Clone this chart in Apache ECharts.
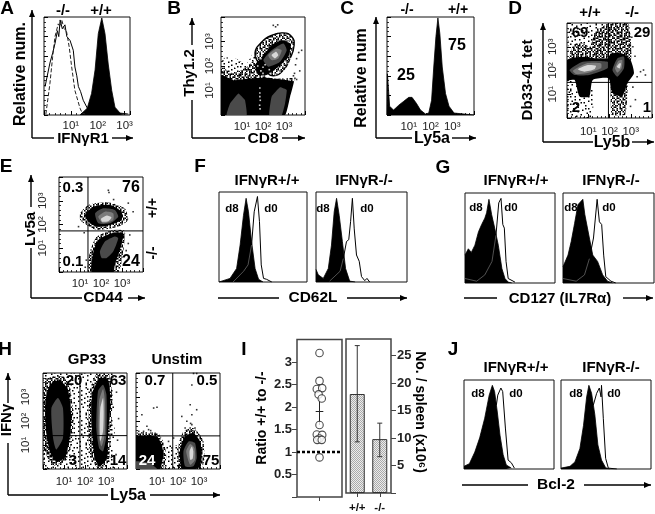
<!DOCTYPE html>
<html><head><meta charset="utf-8">
<style>html,body{margin:0;padding:0;background:#fff}#c{width:655px;height:514px;filter:blur(.3px)}</style>
<script src="https://cdn.jsdelivr.net/npm/echarts@6/dist/echarts.min.js"></script>
</head><body><div id="c"></div>
<script>
// ---------- tick labels ----------
const decadeLabels = {1:'10¹',2:'10²',3:'10³'};
const ratioTicks = ['0.5','1','1.5','2','2.5','3'];
const spleenTicks = [5,10,15,20,25];
const spleenCats = ['+/+','-/-'];

// ---------- panel A: histograms (x = log decades, y = % of max) ----------
const aSolid  = [[.04,29],[.22,53],[.33,64],[.41,73],[.5,86],[.55,80],[.6,97],[.68,88],[.78,92],[.85,80],[.97,76],[1.09,66],[1.15,49],[1.22,40],[1.28,29],[1.36,24],[1.46,15],[1.65,5],[1.84,1]];
const aDashed = [[.07,1],[.22,32],[.32,59],[.41,80],[.53,93],[.6,90],[.66,97],[.75,88],[.84,85],[.94,69],[1.03,49],[1.15,25],[1.34,7],[1.42,2],[1.53,1]];
const aFill   = [[1.34,0],[1.61,7],[1.77,22],[1.9,46],[2.02,83],[2.15,99],[2.27,83],[2.39,52],[2.52,25],[2.64,8],[2.83,2],[3.14,1]];
// ---------- panel C ----------
const cFill = [[.0,0],[.02,42],[.12,9],[.3,5],[.54,10],[.77,14],[1,18],[1.15,18],[1.35,12],[1.54,5],[1.77,1],[1.92,2],[2.05,15],[2.15,49],[2.25,80],[2.34,99],[2.43,83],[2.54,49],[2.69,22],[2.85,9],[3.08,2],[3.54,1],[4,0]];
// ---------- panels F, G, J: x = % of box, y = % of max ----------
const f1Fill = [[0,0],[12.5,4],[20,15],[24,41],[27.8,74],[30.8,93],[33.5,78],[37,45],[41,15],[45,3],[50,0]];
const f1Line = [[16,0],[28,12],[33,19],[37,41],[40,78],[43.7,95],[46,67],[48,19],[50.6,4],[54,3],[60,0]];
const f2Fill = [[0,14],[2.5,8],[8,4],[13.5,15],[17,41],[20,78],[22.6,93],[25.5,74],[29,45],[32.5,15],[37,1],[43,0]];
const f2Line = [[15,1],[26.5,12],[30,26],[33.5,45],[36,47],[38,67],[40,93],[42,59],[44.5,30],[47.5,23],[50,6],[53.6,1.5],[56,4],[59,0]];
const g1Fill = [[0,31],[3.7,38],[7,34],[11,42],[15,57],[18.5,65],[22,72],[24,78],[26.6,93],[29.6,76],[33,61],[37,42],[41,16],[44.4,5],[48,1],[52,0]];
const g1Line = [[0,5],[13,2],[22,9],[30,24],[34.4,53],[37.5,89],[40,94],[42,65],[43.7,61],[45.6,24],[48,5],[55.5,1]];
const g2Fill = [[0,18],[5.5,31],[9,46],[12.7,66],[16.4,87],[21.8,93],[24,76],[29,50],[32.7,31],[38,24],[43.6,9],[49,2],[54.5,0]];
const g2Line = [[0,5],[14.5,2],[23.6,9],[29,27],[33.5,50],[37.5,93],[40,68],[42.5,65],[44.7,31],[47,7],[52.7,2],[58,0]];
const j1Fill = [[0,3],[6,6],[12,19],[17.4,35],[23,57],[28,83],[31.5,94],[34,87],[37,64],[40,38],[43.5,16],[47,4.5],[52.6,1]];
const j1Line = [[36,72],[37.5,83],[41,91],[43,87],[46,46],[49,10],[52.6,7],[56,1]];
const j2Fill = [[0,1],[10,3],[15.5,8],[21,23],[25,49],[28.5,81],[31,94],[34,85],[37.6,61],[41,27],[45,10],[49.6,1.5],[54,0]];
const j2Line = [[36,72],[39.6,85],[42.6,91],[44.5,81],[45,94],[47,57],[49.6,12],[52.6,1],[62,0]];

// ---------- panel B: populations, log decades ----------
const bSparse = [[0,1.6],[.1,2.3],[.6,2.35],[1.2,2.1],[1.6,2.6],[1.9,1.5],[.6,1.4]];
const bDense  = [[0,1.5],[0,1.95],[.6,1.7],[1.2,1.95],[1.6,2.2],[2.2,1.5],[3.5,1.5],[3.3,1.2],[0,1.2]];
const bBlack  = [[0,0],[0,1.63],[.59,1.42],[1.38,1.49],[2.17,1.53],[3.13,1.42],[3.47,1.36],[3.29,.75],[3.05,0]];
const bGrey1  = [[.27,0],[.43,.47],[.83,.88],[1.14,.61],[1.22,0]];
const bGrey2  = [[2.3,0],[2.41,.75],[2.81,1.13],[3.13,1.02],[3.05,.47],[2.89,0]];
const bPop    = [[1.62,2.03],[2.02,2.44],[2.41,2.85],[2.89,3.05],[3.29,2.92],[3.21,2.37],[2.73,1.97],[2.17,1.63],[1.78,1.63]];
const bDark   = [[2.02,2.24],[2.41,2.64],[2.97,2.92],[3.13,2.64],[2.81,2.17],[2.25,1.97]];
const bMid    = [[2.25,2.44],[2.65,2.71],[2.89,2.64],[2.73,2.31],[2.41,2.24]];
const bLight  = [[2.41,2.44],[2.62,2.58],[2.73,2.44],[2.57,2.31]];
const bGate   = [[1.62,2.54],[1.94,2.98],[2.41,3.25],[2.97,3.35],[3.37,3.2],[3.48,2.85],[3.29,2.31],[2.97,1.83],[2.49,1.6],[2.1,1.8],[1.78,2.13]];
const bDots   = [[2.49,3.66],[2.6,3.6],[2.7,3.68],[3.84,2.64],[3.7,2.55],[3.6,2.3],[3.55,2.05],[3.75,1.8],[3.5,1.7],[3.45,1.6],[3.52,1.5],[3.6,1.45]];
const bWhite  = [[1.75,2],[1.9,1.8],[2,1.7],[2.2,1.55],[2.35,1.7],[2.6,1.65],[2.8,1.75],[3,1.8],[3.2,2.1],[3.3,2.3],[3.35,2.6],[3.4,2.8],[3.2,3],[1.7,2.4],[1.85,2.6],[2,1.95],[1.6,1.7],[1.5,1.55],[2.5,1.5],[1.85,.9],[1.85,.75],[1.87,.6],[1.84,.4],[1.86,.25],[1.85,1.1],[3.1,1.9],[2.95,2],[3.05,2.2],[2.1,2.05],[2.3,1.85],[1.9,2.3],[.7,1.95],[.9,2.05],[1.1,1.75],[1.3,1.65]];

// ---------- panel D ----------
const dTop    = [[.12,3.97],[1.98,3.97],[2.91,3.97],[2.99,2.44],[1.98,2.51],[.12,2.44]];
const dCols   = [[.12,2.5],[.3,3.1],[.7,3.15],[1.1,3],[1.3,3.6],[1.9,3.97],[2.9,3.97],[3,2.44]];
const dLeft   = [[0,1.6],[0,0],[1.21,0],[1.3,1.6]];
const dLow    = [[2.06,1.6],[2.1,.14],[2.75,.14],[2.84,1.46]];
const dBlack  = [[0,2.44],[.74,2.58],[1.36,2.51],[1.91,2.51],[2.06,2.72],[2.6,2.72],[2.99,2.44],[3.15,1.88],[2.84,1.46],[2.6,.91],[2.14,1.05],[1.95,1.67],[1.21,1.6],[1.05,.91],[.59,.91],[.36,1.6],[0,1.6]];
const dDarkL  = [[.12,2.02],[.74,2.37],[1.91,2.37],[1.91,2.09],[1.05,1.81],[.36,1.81]];
const dMidL   = [[.28,1.99],[.9,2.3],[1.6,2.3],[1.6,2.09],[.9,1.88],[.43,1.85]];
const dLightL = [[.51,2.05],[.98,2.23],[1.36,2.2],[1.29,2.05],[.82,1.95]];
const dDarkR  = [[2.14,2.02],[2.37,2.51],[2.68,2.58],[2.68,2.09],[2.37,1.74]];
const dMidR   = [[2.26,2.09],[2.42,2.41],[2.6,2.44],[2.57,2.09],[2.37,1.91]];
const dLightR = [[2.34,2.16],[2.45,2.3],[2.54,2.3],[2.48,2.09]];
const dDots   = [[3.46,1.95],[3.6,2.02],[3.3,1.74],[3.69,1.81],[2.76,.63],[2.99,.49],[3.22,.77],[3.1,1.3],[3.2,2.6],[3.1,3],[3.05,3.4]];
const dCut    = [1.95,1.5];

// ---------- panel E ----------
const eTopFr  = [[1.01,2.47],[1.4,2.82],[2.27,2.95],[3.13,2.68],[3.29,2.19],[2.82,1.91],[1.8,1.77],[1.32,1.98],[1.01,2.19]];
const eTopBl  = [[1.24,2.4],[1.64,2.75],[2.43,2.82],[2.98,2.54],[2.98,2.19],[2.43,1.98],[1.8,1.91],[1.4,2.12]];
const eTopDk  = [[1.72,2.47],[2.11,2.68],[2.66,2.61],[2.82,2.33],[2.43,2.05],[1.87,2.05]];
const eTopMd  = [[1.87,2.33],[2.19,2.54],[2.58,2.47],[2.58,2.19],[2.11,2.05]];
const eTopLt  = [[2.0,2.24],[2.27,2.38],[2.5,2.3],[2.35,2.14],[2.05,2.12]];
const eBotFr  = [[1.4,0],[1.48,.86],[1.8,1.49],[2.58,1.77],[3.13,1.73],[3.06,.86],[2.82,0]];
const eBotBl  = [[1.64,.86],[1.87,1.35],[2.5,1.63],[3.06,1.63],[2.9,.93],[2.66,.31],[2.58,0],[1.56,0]];
const eBotDk  = [[1.95,.86],[2.19,1.28],[2.66,1.49],[2.82,1.42],[2.58,.86],[2.27,.59],[2.03,.59]];
const eDots   = [[2.35,3.44],[2.38,3.35],[3.53,2.54],[3.37,1.56],[.93,1.91],[1.2,1.65],[1.3,.5],[1.25,.2],[3.2,.9],[3.3,1.2],[3.3,2.9],[2.6,3.05]];
const eCut    = [1.38,1.73];

// ---------- panel H, GP33 ----------
const h1Sparse = [[0,0],[0,4],[1.7,4],[2.4,4],[3.35,4],[3.45,0]];
const h1FrL    = [[0,2.8],[.1,3.7],[.5,3.85],[1,3.85],[1.3,3.3],[1.45,2.2],[1.38,1.2],[1.1,.35],[.5,.15],[.05,.8]];
const h1FrR    = [[2.2,2.8],[2.5,3.9],[3.15,3.95],[3.3,2.8],[3.22,1.4],[3.12,.3],[2.7,0],[2.3,.4],[2.15,1.4]];
const h1BlL    = [[.24,3.31],[.48,3.65],[.87,3.65],[1.19,3.31],[1.35,2.13],[1.27,1.29],[1.03,.46],[.63,.32],[.32,.74],[.13,1.71],[.11,2.79]];
const h1DkL    = [[.4,2.54],[.71,2.96],[.95,2.54],[.95,1.29],[.63,.81],[.48,1.29]];
const h1BlR    = [[2.38,3.24],[2.7,3.79],[3.1,3.72],[3.21,2.82],[3.1,1.43],[3.05,.46],[2.7,.11],[2.46,.46],[2.35,1.43],[2.3,2.54]];
const h1DkR    = [[2.62,3.24],[2.86,3.51],[3.02,3.1],[3.02,1.43],[2.86,.74],[2.67,.88],[2.54,1.71]];
const h1MdR    = [[2.67,2.82],[2.86,3.33],[2.95,2.82],[2.94,1.43],[2.78,.94],[2.65,1.43]];
const h1LtR    = [[2.73,2.54],[2.86,2.96],[2.89,2.4],[2.86,1.57],[2.73,1.15],[2.7,1.71]];
const h1Dots   = [[3.5,3.2],[3.55,1.2],[3.48,.6],[3.6,2.1],[3.5,.2]];
const h1Cut    = [1.76,1.39];

// ---------- panel H, Unstim ----------
const h2FrL   = [[0,1.5],[1.05,1.5],[1.35,1.05],[1.45,.5],[1.3,0],[0,0]];
const h2FrR   = [[2,.9],[2.25,1.55],[2.75,1.7],[3.2,1.2],[3.25,.4],[3.1,0],[2.05,0]];
const h2Sparse= [[1.2,1],[2.1,1],[2.1,0],[1.2,0]];
const h2BlL   = [[0,1.36],[1,1.36],[1.23,1.01],[1.31,.6],[1.15,0],[0,0]];
const h2DkL   = [[0,0],[0,.32],[.68,.25],[1,0]];
const h2BlR   = [[2.1,.81],[2.34,1.36],[2.73,1.5],[3.05,1.15],[3.13,.46],[2.97,.04],[2.18,0]];
const h2DkR   = [[2.26,.74],[2.5,1.15],[2.81,1.08],[2.89,.46],[2.73,.11],[2.34,.11]];
const h2MdR   = [[2.39,.74],[2.58,1.04],[2.78,.88],[2.81,.39],[2.58,.18]];
const h2LtR   = [[2.55,.74],[2.66,.94],[2.73,.74],[2.7,.43],[2.58,.39]];
const h2Dots  = [[.84,2.54],[1,2.57],[.28,2.26],[.52,1.78],[.36,1.57],[.6,1.64],[.13,1.57],[2.18,2.19],[2.58,2.68],[2.66,2.26],[2.42,1.99],[2.66,1.85],[2.89,2.47],[2.58,1.71],[2.34,1.71],[2.81,1.71],[2.74,3.98],[2.89,3.98],[2.66,3.5],[1.55,1.15],[1.79,1.29],[1.71,.88],[2.4,1.6],[2.7,1.6],[2.6,1.9],[.7,1.6],[.9,1.45]];
const h2Cut   = [1.75,1.38];

// ---------- panel I ----------
const ratioPoints = [[0,3.2],[0,2.58],[-.12,2.4],[.12,2.42],[-.04,2.28],[.1,2.19],[0,1.6],[-.12,1.39],[.12,1.38],[0,1.3],[-.1,1.27],[.1,1.27],[0,.88]];
const ratioMean = 1.9, ratioLow = 1.6, ratioHigh = 2.19, ratioRef = 1;
const spleenMeans = [18, 9.8];
const spleenLow   = [9.3, 6.6];
const spleenHigh  = [26.8, 12.7];

// ---------- speckle tiles ----------
const denseTile = ["#.#..##.#.##..#.#.#.",".##.#..##..#.##..##.","#..##.#..#.##.#.#..#",".#.#..##.##..#..##.#","##..#.#.#..#.##.#..#","..##.#..##.##..#.##.","#.#.##.#..#..#.##..#",".#..#.##.#.##.#..#.#","##.#..#.##.#..##.#..",".#.##.#..#..##.#.#.#","#..#.##.#.##.#..#.##",".##.#..#.##..#.##..#","#.#..##.#..#.##..##.","#.##.#..##.#..#.#..#",".#..#.##..#.##.#.##.","##.#.#..#.##.#..#.#.","..#.##.##.#..#.##..#","#.#..#.#..##.#.#.##.",".##.#.##.#..#.#..#.#","#..##..#.##.#.##.#.."];
const sparseTile = ["#.......#.....#.....","....#.......#......#",".#.......#.......#..","......#.......#.....","#..#........#.....#.",".........#......#...","...#..#.......#.....",".#..........#.....#.",".......#.#......#...","#...#.........#.....","..........#.......#.",".....#.........#....","..#.......#.#.......","........#.........#.","#....#.......#......","...........#.....#..",".#.....#.........#..","....#........#......",".........#.#.....#..","#.....#...........#."];
const barTile = ["#.",".#"];
function tile(rows, ink, bg, s){
  s = s||1;
  const c = document.createElement('canvas');
  c.width = Math.round(rows[0].length*s); c.height = Math.round(rows.length*s);
  const g = c.getContext('2d');
  if (bg){ g.fillStyle = bg; g.fillRect(0,0,c.width,c.height); }
  g.fillStyle = ink;
  rows.forEach((r,y)=>[...r].forEach((ch,x)=>{ if(ch==='#') g.fillRect(x*s,y*s,s,s); }));
  return {image:c, repeat:'repeat'};
}
const DENSE = tile(denseTile,'#000',null,1.5), SPARSE = tile(sparseTile,'#000',null,1.5), BARFILL = tile(barTile,'#aaaaaa','#ececec');
const K='#000', DK='#4a4a4a', MD='#7c7c7c', LT='#d8d8d8';

// ---------- builders ----------
const FONT = '"Liberation Sans", Arial, sans-serif';
const grid=[], xAxis=[], yAxis=[], series=[];
function addGrid(l,t,r,b,border,bw){
  grid.push({left:l,top:t,width:r-l,height:b-t,show:true,borderColor:border||'#111',borderWidth:bw||1,backgroundColor:'#fff',containLabel:false});
  return grid.length-1;
}
function logAxis(i,max,labelMargin,withLabel,rotate,pos){
  return {type:'value',gridIndex:i,min:0,max:max,interval:1,position:pos,splitLine:{show:false},
    axisLine:{show:false,onZero:false},
    axisTick:{show:true,inside:true,length:4,lineStyle:{color:'#000',width:1}},
    minorTick:{show:true,splitNumber:5,length:2,lineStyle:{color:'#000',width:.8}},
    axisLabel:{show:withLabel,margin:labelMargin,rotate:rotate||0,fontFamily:FONT,fontSize:11.5,color:'#222',hideOverlap:false,showMinLabel:true,showMaxLabel:true,
      formatter:v=>decadeLabels[v]||''}};
}
function plainAxis(i,max,pos,ticks){
  return {type:'value',gridIndex:i,min:0,max:max,interval:20,position:pos,splitLine:{show:false},
    axisLine:{show:false,onZero:false},
    axisTick:{show:ticks,inside:true,length:4,lineStyle:{color:'#000'}},
    minorTick:{show:ticks,splitNumber:4,length:2,lineStyle:{color:'#000',width:.8}},
    axisLabel:{show:false}};
}
function fill(i,d){ series.push({type:'line',xAxisIndex:i,yAxisIndex:i,data:d,symbol:'none',silent:true,lineStyle:{color:'#000',width:.8},areaStyle:{color:'#000',opacity:1},clip:true}); }
function line(i,d,color,dash,w){ series.push({type:'line',xAxisIndex:i,yAxisIndex:i,data:d,symbol:'none',silent:true,lineStyle:{color:color||'#000',width:w||1,type:dash||'solid'},clip:true}); }
function poly(i,d,f,extra){
  series.push({type:'custom',xAxisIndex:i,yAxisIndex:i,data:d,clip:true,silent:true,encode:{x:0,y:1},
    renderItem:(p,api)=>p.dataIndex===0?{type:'polygon',shape:{points:d.map(q=>api.coord(q)),smooth:(extra&&extra.smooth!=null)?extra.smooth:.2},
      style:extra&&extra.stroke?{fill:'none',stroke:extra.stroke,lineWidth:extra.lw}:{fill:f}}:null});
}
function dots(i,d,color,size){ series.push({type:'scatter',xAxisIndex:i,yAxisIndex:i,data:d,symbol:'rect',symbolSize:size||1.6,silent:true,itemStyle:{color:color||'#000'},clip:true}); }
function cut(i,c){ line(i,[[c[0],0],[c[0],4]],'#000'); line(i,[[0,c[1]],[4,c[1]]],'#000'); }
function hist(l,t,r,b,xMax,xTicks,yTicks,xLab,xM){
  const i=addGrid(l,t,r,b);
  xAxis.push(xTicks?logAxis(i,xMax,xM||5,xLab,0,'bottom'):{...plainAxis(i,xMax,'bottom',false)});
  yAxis.push(plainAxis(i,100,'left',yTicks));
  return i;
}
function flow(l,t,r,b,xM,yM){
  const i=addGrid(l,t,r,b);
  xAxis.push(logAxis(i,4,xM,true,0,'bottom'));
  yAxis.push(logAxis(i,4,yM||4,yM!=null,90,'left'));
  return i;
}

// A
let i=hist(44,17,130,115,3.2,true,true,true,5);
line(i,aSolid); line(i,aDashed,'#222','dashed'); fill(i,aFill);
// B
i=flow(221,17,305,115,6,5);
poly(i,bSparse,SPARSE); poly(i,bDense,DENSE); poly(i,bBlack,K,{smooth:.1}); poly(i,bGrey1,DK,{smooth:.1}); poly(i,bGrey2,DK,{smooth:.1});
poly(i,bGate,DENSE,{smooth:.5}); poly(i,bPop,K); poly(i,bDark,DK); poly(i,bMid,MD); poly(i,bLight,LT);
dots(i,bDots); dots(i,bWhite,'#fff',1.6); poly(i,bGate,null,{stroke:'#000',lw:1.4,smooth:.5});
// C
i=hist(387,17,474,115,4,true,true,true,6); fill(i,cFill);
// D
i=flow(567,23,653,118,8,8);
poly(i,dTop,SPARSE,{smooth:.1}); poly(i,dCols,DENSE,{smooth:.1}); poly(i,dLeft,SPARSE,{smooth:0}); poly(i,dLow,DENSE,{smooth:.1}); poly(i,dBlack,K,{smooth:.2});
poly(i,dDarkL,DK); poly(i,dMidL,MD); poly(i,dLightL,LT); poly(i,dDarkR,DK); poly(i,dMidR,MD); poly(i,dLightR,LT);
dots(i,dDots); cut(i,dCut);
// E
i=flow(59,177,143,272,6,10);
poly(i,eTopFr,DENSE); poly(i,eTopBl,K); poly(i,eTopDk,DK); poly(i,eTopMd,MD); poly(i,eTopLt,LT);
poly(i,eBotFr,DENSE); poly(i,eBotBl,K); poly(i,eBotDk,DK); dots(i,eDots); cut(i,eCut);
// F
const noTickHist=(l,t,r,b,F,L,n)=>{const k=hist(l,t,r,b,100,false,false,false); line(k,L); fill(k,F); if(n) line(k,L.slice(0,n),'#666',null,.8);};
noTickHist(219,192,307,282,f1Fill,f1Line,4);
noTickHist(316,192,407,282,f2Fill,f2Line,3);
// G
noTickHist(465,193,555,283,g1Fill,g1Line,5);
noTickHist(563,193,654,283,g2Fill,g2Line,4);
// H
i=flow(43,373,127,469,7,11);
poly(i,h1Sparse,SPARSE,{smooth:0}); poly(i,h1FrL,DENSE); poly(i,h1FrR,DENSE); poly(i,h1BlL,K); poly(i,h1DkL,DK);
poly(i,h1BlR,K); poly(i,h1DkR,DK); poly(i,h1MdR,MD); poly(i,h1LtR,LT); dots(i,h1Dots); cut(i,h1Cut);
i=flow(136,373,220,469,7,null);
poly(i,h2Sparse,SPARSE,{smooth:0}); poly(i,h2FrL,DENSE,{smooth:.1}); poly(i,h2FrR,DENSE); poly(i,h2BlL,K,{smooth:.1}); poly(i,h2DkL,DK,{smooth:.1});
poly(i,h2BlR,K); poly(i,h2DkR,DK); poly(i,h2MdR,MD); poly(i,h2LtR,LT); dots(i,h2Dots); cut(i,h2Cut);
// I left
const AX='#444';
i=addGrid(297,339.5,342,497,AX,1.5);
xAxis.push({type:'value',gridIndex:i,min:-1,max:1,interval:1,splitLine:{show:false},axisLine:{show:false,onZero:false},
  axisTick:{show:true,customValues:[0],length:4,lineStyle:{color:AX}},axisLabel:{show:false}});
yAxis.push({type:'value',gridIndex:i,min:0,max:3.5,interval:.5,position:'left',splitLine:{show:false},axisLine:{show:false,onZero:false},
  axisTick:{show:true,customValues:[0,.5,1,1.5,2,2.5,3],length:5,lineStyle:{color:AX,width:1}},
  axisLabel:{margin:5,fontFamily:FONT,fontWeight:'bold',fontSize:13,color:'#222',customValues:ratioTicks.map(Number),formatter:v=>String(v)}});
line(i,[[0,ratioLow],[0,ratioHigh]],'#222');
line(i,[[-.17,ratioMean],[.17,ratioMean]],'#222');
series.push({type:'scatter',xAxisIndex:i,yAxisIndex:i,data:ratioPoints,symbol:'circle',symbolSize:7.5,silent:true,itemStyle:{color:'#fff',borderColor:'#222',borderWidth:1.1},z:3});
line(i,[[-1,ratioRef],[1,ratioRef]],'#000',[3,2],2.5);
// I right
i=addGrid(346,339,391,497,AX,1.5);
xAxis.push({type:'category',gridIndex:i,data:spleenCats,axisLine:{show:false},axisTick:{show:true,alignWithLabel:true,length:4,lineStyle:{color:AX}},
  axisLabel:{margin:9,interval:0,hideOverlap:false,fontFamily:FONT,fontWeight:'bold',fontSize:11.5,color:'#111'}});
yAxis.push({type:'value',gridIndex:i,min:0,max:28,interval:5,position:'right',splitLine:{show:false},axisLine:{show:false,onZero:false},
  axisTick:{show:true,customValues:[0].concat(spleenTicks),length:5,lineStyle:{color:AX}},
  axisLabel:{margin:6,fontFamily:FONT,fontWeight:'bold',fontSize:13,color:'#222',customValues:spleenTicks,formatter:v=>String(v)}});
series.push({type:'bar',xAxisIndex:i,yAxisIndex:i,data:spleenMeans,barWidth:15,silent:true,itemStyle:{color:BARFILL,borderColor:'#333',borderWidth:1}});
series.push({type:'custom',xAxisIndex:i,yAxisIndex:i,silent:true,z:4,encode:{x:0,y:[1,2]},
  data:spleenCats.map((c,k)=>[k,spleenLow[k],spleenHigh[k]]),
  renderItem:(p,api)=>{const a=api.coord([api.value(0),api.value(1)]),b=api.coord([api.value(0),api.value(2)]),w=2.5;
    const st={stroke:'#333',lineWidth:1};
    return {type:'group',children:[
      {type:'line',shape:{x1:a[0],y1:a[1],x2:b[0],y2:b[1]},style:st},
      {type:'line',shape:{x1:a[0]-w,y1:a[1],x2:a[0]+w,y2:a[1]},style:st},
      {type:'line',shape:{x1:b[0]-w,y1:b[1],x2:b[0]+w,y2:b[1]},style:st}]};}});
// J
noTickHist(464,380,554,469,j1Fill,j1Line,0);
noTickHist(561,380,651,469,j2Fill,j2Line,0);

// ---------- text and axis arrows ----------
const gfx=[];
function T(text,x,y,size,opt){opt=opt||{};
  gfx.push({type:'text',x,y,rotation:opt.rot||0,z:50,silent:true,
    style:{text,font:`${opt.weight||'bold'} ${size}px ${FONT}`,fill:opt.color||'#000',align:'center',verticalAlign:'middle',textAlign:'center',textVerticalAlign:'middle'}});
}
function seg(x1,y1,x2,y2,w){gfx.push({type:'line',z:50,silent:true,shape:{x1,y1,x2,y2},style:{stroke:'#000',lineWidth:w||1.4}});}
function arrow(x1,y1,x2,y2){seg(x1,y1,x2,y2);
  const a=Math.atan2(y2-y1,x2-x1),L=7,W=3;
  const p=[[x2,y2],[x2-L*Math.cos(a)+W*Math.sin(a),y2-L*Math.sin(a)-W*Math.cos(a)],[x2-L*Math.cos(a)-W*Math.sin(a),y2-L*Math.sin(a)+W*Math.cos(a)]];
  gfx.push({type:'polygon',z:50,silent:true,shape:{points:p},style:{fill:'#000'}});
}
const UP=Math.PI/2, DOWN=-Math.PI/2;
[['A',7,9],['B',174,9],['C',347,9],['D',515,9],['E',6,167],['F',200,167],['G',443,168],['H',5,350],['I',244,350],['J',453,350]].forEach(a=>T(a[0],a[1],a[2],19));
// A
T('-/-',63,11,15);T('+/+',101,11,15);T('Relative num.',21,74,16,{rot:UP});T('IFNγR1',83,139,15);
arrow(32,138,32,10);seg(32,138,54,138);arrow(112,138,133,138);
// B
T('Thy1.2',190,73,15,{rot:UP});T('CD8',263,139,15.5);
arrow(192,45,192,18);seg(192,100,192,138);seg(192,138,245,138);arrow(282,138,305,138);
// C
T('-/-',407,10,14);T('+/+',458,10,14);T('Relative num',362,78,16,{rot:UP});T('Ly5a',432,139,16);
T('25',406,76,16);T('75',457,46,16);
arrow(376,138,376,17);seg(376,138,412,138);arrow(452,138,476,138);
// D
T('+/+',590,13,15);T('-/-',632,13,15);T('Db33-41 tet',528,80,15,{rot:UP});T('Ly5b',612,143,16);
T('69',580,33,15);T('29',642,33,15);T('2',576,108,15);T('1',647,108,15);
arrow(543,142,543,23);seg(543,142,593,142);arrow(632,142,654,142);
// E
T('0.3',73,188,15);T('76',131,188,16);T('0.1',73,262,15);T('24',131,262,16);
T('+/+',153,208,14,{rot:UP});T('-/-',153,253,14,{rot:UP});T('Lv5a',31,229,15,{rot:UP});T('CD44',103,298,15.5);
arrow(31,207,31,175);seg(31,248,31,298);seg(31,298,82,298);arrow(128,298,145,298);
// F
T('IFNγR+/+',267,181,15);T('IFNγR-/-',364,181,15);T('d8',232,209,11.5);T('d0',271,209,11.5);T('d8',323,209,11.5);T('d0',367,209,11.5);
T('CD62L',313,298,15.5);seg(218,298,279,298);arrow(347,298,407,298);
// G
T('IFNγR+/+',516,181,15);T('IFNγR-/-',611,181,15);T('d8',476,208,11.5);T('d0',511,208,11.5);T('d8',571,208,11.5);T('d0',609,208,11.5);
T('CD127 (IL7Rα)',560,299,15);seg(464,298,497,298);arrow(623,298,653,298);
// H
T('GP33',87,360,15);T('Unstim',177,360,15);T('IFNγ',7,420,15,{rot:UP});T('Ly5a',128,496,16);
arrow(8,403,8,373);seg(8,443,8,495);seg(8,495,108,495);arrow(150,495,220,495);
T('20',74,381,15);T('63',118,381,15);T('3',73,461,15);T('14',118,461,15);
T('0.7',155,381,15);T('0.5',207,381,15);T('24',147,461,15,{color:'#fff'});T('75',211,461,15);
// I
T('Ratio +/+ to -/-',262,418,14,{rot:UP});T('No. / spleen (x10⁶)',420,412,14,{rot:DOWN});
// J
T('IFNγR+/+',516,368,15);T('IFNγR-/-',611,368,15);T('d8',478,394,11.5);T('d0',516,394,11.5);T('d8',576,394,11.5);T('d0',614,394,11.5);
T('Bcl-2',556,485,15.5);seg(462,485,528,485);arrow(584,485,651,485);

const chart=echarts.init(document.getElementById('c'),null,{renderer:'canvas'});
chart.setOption({animation:false,backgroundColor:'#fff',tooltip:{show:false},grid,xAxis,yAxis,series,graphic:gfx});
</script></body></html>
